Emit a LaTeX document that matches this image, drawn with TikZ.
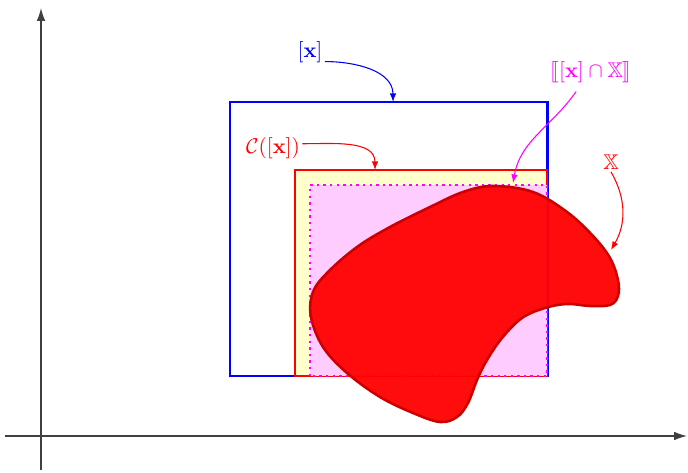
\documentclass[tikz,border=0pt]{standalone}
\usepackage{amsmath}
\usepackage{amssymb}
\usepackage{stmaryrd}
\usetikzlibrary{arrows.meta, positioning}

\definecolor{boxblue}{RGB}{0,0,255}
\definecolor{hullmag}{RGB}{255,0,255}
\definecolor{hullfill}{RGB}{255,204,255}
\definecolor{ctcfill}{RGB}{255,255,204}
\definecolor{setred}{RGB}{255,0,0}
\definecolor{setedge}{RGB}{204,0,0}

\begin{document}
\begin{tikzpicture}[
    x=0.47pt, y=0.47pt,
    axis/.style={-{Latex[length=6pt,width=4pt]}, black!75, line width=0.6pt},
    outer/.style={boxblue, line width=1.4pt},
    contr/.style={draw=setred, fill=ctcfill, line width=0.7pt},
    inter/.style={draw=hullmag, fill=hullfill, dotted, line width=1.1pt},
    blob/.style={draw=setedge, fill=setred, fill opacity=0.95, line width=1.2pt},
    ptr/.style={-{Latex[length=4pt,width=3pt]}, line width=0.5pt},
    lbl/.style={inner sep=1pt},
]
\useasboundingbox (0,0) rectangle (688,472);

% --- box edges (y up, qualitative) ---
\def\xl{230}    % left of the box [x]
\def\xc{295}    % left of the contracted box
\def\xin{310}   % left of the inner hull
\def\xr{547}    % common right edge
\def\yb{96}     % common bottom edge
\def\yt{370}    % top of the box [x]
\def\yc{302}    % top of the contracted box
\def\yin{287}   % top of the inner hull

% axes
\coordinate (xaxL) at (5,36);
\coordinate (xaxR) at (687,36);
\coordinate (yaxB) at (41,2);
\coordinate (yaxT) at (41,464);
\draw[axis] (xaxL) -- (xaxR);
\draw[axis] (yaxB) -- (yaxT);

% the three boxes
\draw[outer] (\xl,\yb) rectangle (\xr,\yt);
\draw[contr] (\xc,\yb) rectangle (\xr,\yc);
\draw[inter] (\xin,\yb) rectangle (\xr,\yin);

% the set X
\path[blob] plot[smooth cycle, tension=0.6] coordinates {
    (493,286) (533,280) (567,260) (593,236) (610,214) (618,192)
    (618,176) (610,167) (590,166) (567,168) (545,164) (522,154)
    (502,134) (487,112) (477,92) (468,69) (457,55) (440,50)
    (413,59) (380,75) (347,99) (323,125) (311,155) (313,180)
    (328,200) (357,225) (390,245) (430,265) (463,280)};

% labels
\node[lbl, boxblue] (lblBox)   at (310,420) {$[\mathbf{x}]$};
\node[lbl, setred]  (lblCtc)   at (273,324) {$\mathcal{C}([\mathbf{x}])$};
\node[lbl, hullmag] (lblInter) at (591,400) {$\llbracket[\mathbf{x}]\cap\mathbb{X}\rrbracket$};
\node[lbl, setred]  (lblSet)   at (611,310) {$\mathbb{X}$};

% where the pointers land
\coordinate (boxTop)   at (393,\yt);
\coordinate (ctcTop)   at (375,\yc);
\coordinate (interTop) at (513,289);
\coordinate (setEdge)  at (611,222);

% pointers
\draw[ptr, boxblue] ([yshift=-4.5pt]lblBox.east) to[out=0, in=90] (boxTop);
\draw[ptr, setred] ([yshift=2pt]lblCtc.east) to[out=0, in=90] (ctcTop);
\draw[ptr, hullmag] ([xshift=-7pt, yshift=-3pt]lblInter.south)
      to[out=-125, in=80] (interTop);
\draw[ptr, setred] (lblSet.south) to[out=-60, in=60] (setEdge);
\end{tikzpicture}
\end{document}
